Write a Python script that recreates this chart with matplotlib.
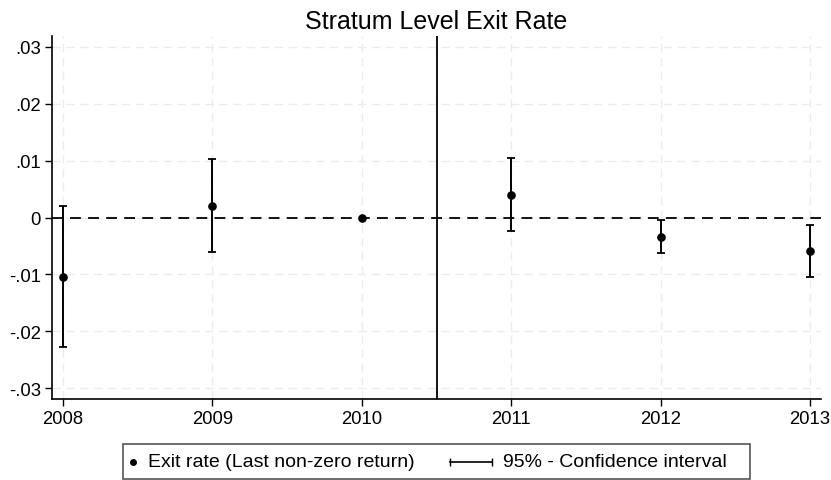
import numpy as np
import matplotlib
matplotlib.use("Agg")
import matplotlib.pyplot as plt
from matplotlib.lines import Line2D
from matplotlib.patches import Rectangle

plt.rcParams['font.family'] = ['Liberation Sans', 'DejaVu Sans']

years = [2008, 2009, 2010, 2011, 2012, 2013]
exit_rate = [-0.0104, 0.0021, 0.0, 0.0040, -0.00345, -0.0059]
ci_low = [-0.0228, -0.0060, 0.0, -0.0023, -0.0063, -0.0104]
ci_high = [0.0020, 0.0103, 0.0, 0.0104, -0.0005, -0.0014]
yticks = [-0.03, -0.02, -0.01, 0, 0.01, 0.02, 0.03]
ytick_labels = ['-.03', '-.02', '-.01', '0', '.01', '.02', '.03']
treatment_break = 2010.5
legend_labels = ['Exit rate (Last non-zero return)', '95% - Confidence interval']

W, H = 831, 481
fig = plt.figure(figsize=(W / 100, H / 100), dpi=100)
ax = fig.add_axes([52 / W, 1 - 400 / H, (821 - 52) / W, (400 - 37) / H])

# confidence intervals (the reference year has none)
x = np.array(years)
est = np.array(exit_rate)
lo = np.array(ci_low)
hi = np.array(ci_high)
has_ci = hi > lo
ax.errorbar(x[has_ci], est[has_ci], yerr=[est[has_ci] - lo[has_ci], hi[has_ci] - est[has_ci]],
            fmt='none', ecolor='black', elinewidth=1.4, capsize=2.6, capthick=1.3, zorder=3)
ax.plot(x, est, 'o', color='black', markersize=5.2, zorder=4)

ax.axhline(0, color='black', linestyle=(0, (6, 4)), linewidth=1.3, zorder=2)
ax.axvline(treatment_break, color='black', linewidth=1.3, zorder=2)

ax.set_xlim(2007.926, 2013.074)
ax.set_ylim(-0.0319, 0.0319)
ax.set_xticks(years)
ax.set_xticklabels([str(y) for y in years])
ax.set_yticks(yticks)
ax.set_yticklabels(ytick_labels)
ax.tick_params(labelsize=13.3, length=5, width=1, color='black', pad=3)
ax.grid(True, color='#ececec', linestyle=(0, (6, 4)), linewidth=1)
ax.set_axisbelow(True)
for side in ['top', 'right']:
    ax.spines[side].set_visible(False)
for side in ['left', 'bottom']:
    ax.spines[side].set_linewidth(1.2)

ax.set_title('Stratum Level Exit Rate', fontsize=18, pad=6)

# legend box drawn in pixel coordinates of the figure
def px(xp, yp):
    return xp / W, 1 - yp / H

box_x0, box_x1, box_y0, box_y1 = 123, 750, 445, 480
fig.patches.append(Rectangle(px(box_x0, box_y1), (box_x1 - box_x0) / W, (box_y1 - box_y0) / H,
                             transform=fig.transFigure, fill=False, edgecolor='#555555',
                             linewidth=1.2))
ly = 463
fig.lines.append(Line2D(*zip(px(133, ly)), transform=fig.transFigure, color='black',
                        marker='o', markersize=4, linestyle='none'))
fig.text(*px(148, ly), legend_labels[0], fontsize=14, va='center', ha='left')
fig.lines.append(Line2D([450 / W, 492 / W], [1 - ly / H] * 2, transform=fig.transFigure,
                        color='black', linewidth=1.2, marker='|', markersize=6))
fig.text(*px(503, ly), legend_labels[1], fontsize=14, va='center', ha='left')

fig.savefig('out.png', dpi=100)
